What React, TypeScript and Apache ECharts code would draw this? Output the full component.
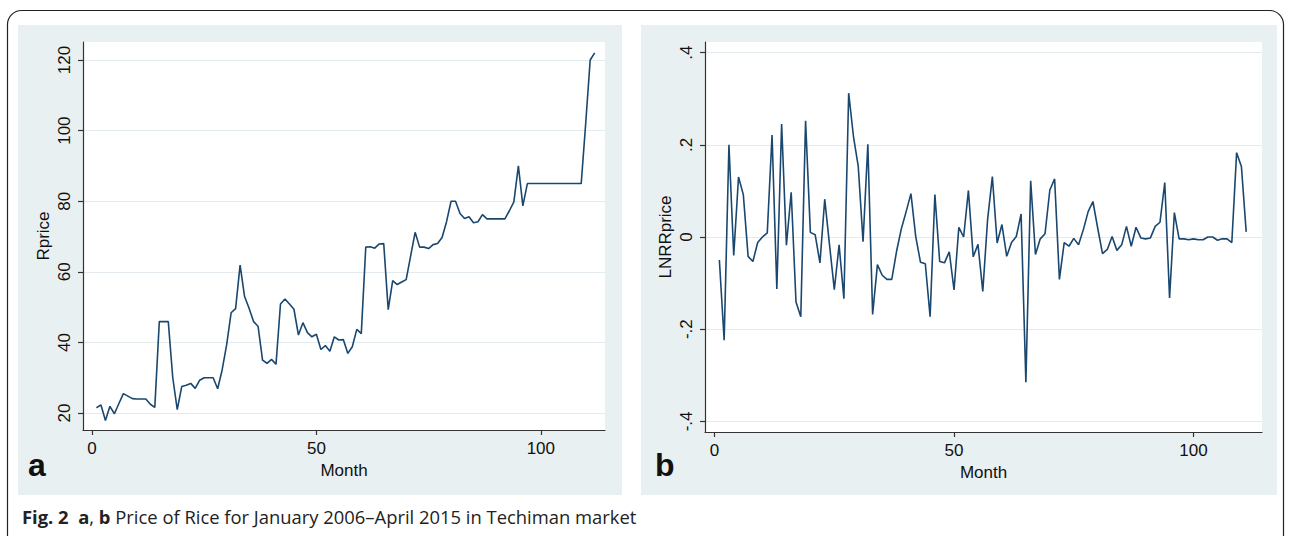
import React, { useEffect, useRef } from "react";
import * as echarts from "echarts";

// Panel a: monthly rice price (Rprice), months 1..112
const rprice = [
  21.5, 22.3, 17.9, 21.9, 19.8, 22.7, 25.5, 24.8, 24.1, 24,
  24, 24, 22.5, 21.6, 45.9, 45.9, 45.9, 30, 21.0, 27.5,
  27.9, 28.4, 27, 29.3, 30, 30, 30, 26.9, 32.2, 39.3,
  48.4, 49.6, 61.9, 53, 49.7, 45.9, 44.6, 35, 34.1, 35.2,
  33.8, 50.9, 52.3, 50.9, 49.4, 42.1, 45.6, 42.8, 41.6, 42.3,
  38, 39.1, 37.5, 41.6, 40.7, 40.8, 36.9, 38.8, 43.7, 42.5,
  67, 67.1, 66.7, 67.9, 68, 49.3, 57.5, 56.4, 57.1, 57.8,
  64.5, 71.2, 67, 67, 66.6, 67.7, 68, 69.7, 74.2, 80,
  80, 76.5, 75.1, 75.6, 73.9, 74.2, 76.2, 75, 75, 75,
  75, 75, 77.3, 79.8, 90, 78.7, 85, 85, 85, 85,
  85, 85, 85, 85, 85, 85, 85, 85, 85, 102,
  120, 122,
];

// Panel b: log return of rice price (LNRRprice), months 1..111
const lnrrprice = [
  -0.05, -0.224, 0.2, -0.04, 0.13, 0.092, -0.042, -0.053, -0.012, 0.0,
  0.009, 0.221, -0.113, 0.245, -0.018, 0.097, -0.141, -0.173, 0.252, 0.01,
  0.005, -0.056, 0.082, -0.017, -0.114, -0.017, -0.134, 0.312, 0.218, 0.153,
  -0.01, 0.201, -0.168, -0.06, -0.083, -0.092, -0.092, -0.031, 0.018, 0.055,
  0.094, 0.001, -0.055, -0.058, -0.173, 0.092, -0.053, -0.056, -0.032, -0.115,
  0.021, 0.0, 0.101, -0.043, -0.016, -0.118, 0.037, 0.131, -0.013, 0.027,
  -0.042, -0.012, 0.001, 0.05, -0.315, 0.122, -0.038, -0.004, 0.007, 0.102,
  0.126, -0.092, -0.012, -0.02, -0.003, -0.017, 0.016, 0.055, 0.077, 0.019,
  -0.036, -0.027, 0.001, -0.029, -0.017, 0.023, -0.02, 0.021, -0.002, -0.004,
  -0.002, 0.023, 0.032, 0.118, -0.132, 0.053, -0.004, -0.004, -0.006, -0.004,
  -0.006, -0.006, 0.0, 0.0, -0.007, -0.004, -0.004, -0.012, 0.183, 0.153,
  0.011,
];

const firstMonth = 1;
const xTicks = [0, 50, 100];
const yTicksA = [20, 40, 60, 80, 100, 120];
const yTicksB = [-0.4, -0.2, 0, 0.2, 0.4];
const xName = "Month";
const yNameA = "Rprice";
const yNameB = "LNRRprice";
const panelLabels = ["a", "b"];

const FONT = "'Liberation Sans', Arial, sans-serif";
const CAPFONT = "'Open Sans', sans-serif";
const LINE = "#1a476f";
const AXIS = "#333333";
const GRID = "#e3ebee";
const PANEL = "#e9f0f2";

const fmtB = (v: number) => {
  if (Math.abs(v) < 1e-9) return "0";
  const s = v.toFixed(1);
  return s.replace("0.", ".");
};

function xAxisCfg(gridIndex: number) {
  return {
    type: "value",
    gridIndex,
    min: -2,
    max: 114.3,
    axisLine: { show: true, onZero: false, lineStyle: { color: AXIS, width: 1.2 } },
    axisTick: { show: true, length: 5, customValues: xTicks, lineStyle: { color: AXIS, width: 1.2 } },
    axisLabel: { customValues: xTicks, fontSize: 17, color: "#111", margin: 10, fontFamily: FONT },
    splitLine: { show: false },
    name: xName,
    nameLocation: "middle",
    nameGap: 25,
    nameTextStyle: { fontSize: 17, color: "#111", fontFamily: FONT },
  };
}

function yAxisCfg(gridIndex: number, min: number, max: number, ticks: number[], name: string, fmt?: (v: number) => string) {
  return {
    type: "value",
    gridIndex,
    min,
    max,
    axisLine: { show: true, onZero: false, lineStyle: { color: AXIS, width: 1.2 } },
    axisTick: { show: true, length: 5, customValues: ticks, lineStyle: { color: AXIS, width: 1.2 } },
    axisLabel: {
      customValues: ticks,
      rotate: 90,
      fontSize: 17,
      color: "#111",
      margin: 10,
      fontFamily: FONT,
      formatter: fmt ? (v: number) => fmt(v) : undefined,
    },
    splitLine: { show: true, lineStyle: { color: GRID, width: 1.2 } },
    name,
    nameLocation: "middle",
    nameGap: 31,
    nameTextStyle: { fontSize: 17, color: "#111", fontFamily: FONT },
  };
}

export default function App() {
  const ref = useRef<HTMLDivElement>(null);
  useEffect(() => {
    if (!ref.current) return;
    const chart = echarts.init(ref.current, null, { renderer: "svg" });
    const dataA = rprice.map((v, i) => [firstMonth + i, v]);
    const dataB = lnrrprice.map((v, i) => [firstMonth + i, v]);
    chart.setOption({
      animation: false,
      backgroundColor: "#ffffff",
      graphic: [
        {
          type: "rect",
          z: -20,
          shape: { x: 7.5, y: 10.5, width: 1276, height: 600, r: [14, 14, 0, 0] },
          style: { fill: "#ffffff", stroke: "#222", lineWidth: 1.2 },
        },
        { type: "rect", z: -10, shape: { x: 18, y: 25, width: 604, height: 470 }, style: { fill: PANEL } },
        { type: "rect", z: -10, shape: { x: 641, y: 25, width: 636, height: 470 }, style: { fill: PANEL } },
        {
          type: "text",
          left: 28,
          top: 449,
          style: { text: panelLabels[0], fontSize: 32, fontWeight: "bold", fill: "#111", fontFamily: FONT },
        },
        {
          type: "text",
          left: 655,
          top: 449,
          style: { text: panelLabels[1], fontSize: 32, fontWeight: "bold", fill: "#111", fontFamily: FONT },
        },
        {
          type: "text",
          left: 22,
          top: 507,
          style: {
            text: "{b|Fig. 2}  {b|a}, {b|b} Price of Rice for January 2006\u2013April 2015 in Techiman market",
            fontSize: 18.4,
            fill: "#222",
            fontFamily: CAPFONT,
            rich: {
              b: { fontWeight: "bold", fontSize: 18.4, fill: "#222", fontFamily: CAPFONT },
            },
          },
        },
      ],
      grid: [
        { left: 83, top: 42, width: 522, height: 388, show: true, backgroundColor: "#ffffff", borderWidth: 0 },
        { left: 705, top: 42, width: 557, height: 390, show: true, backgroundColor: "#ffffff", borderWidth: 0 },
      ],
      xAxis: [xAxisCfg(0), xAxisCfg(1)],
      yAxis: [
        yAxisCfg(0, 15.2, 125.1, yTicksA, yNameA),
        yAxisCfg(1, -0.423, 0.423, yTicksB, yNameB, fmtB),
      ],
      series: [
        {
          type: "line",
          xAxisIndex: 0,
          yAxisIndex: 0,
          data: dataA,
          showSymbol: false,
          lineStyle: { color: LINE, width: 1.6 },
          silent: true,
        },
        {
          type: "line",
          xAxisIndex: 1,
          yAxisIndex: 1,
          data: dataB,
          showSymbol: false,
          lineStyle: { color: LINE, width: 1.6 },
          silent: true,
        },
      ],
    });
    return () => chart.dispose();
  }, []);
  return <div ref={ref} style={{ position: "absolute", left: 0, top: 0, width: 1290, height: 536 }} />;
}
